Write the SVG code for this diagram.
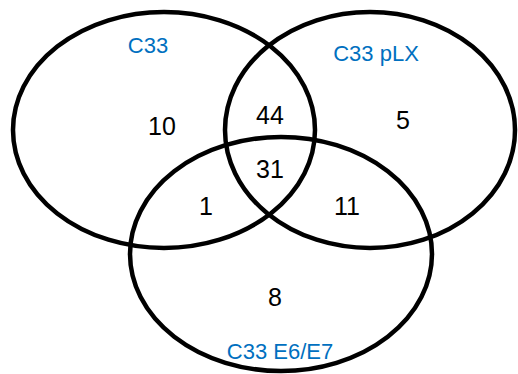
<svg xmlns="http://www.w3.org/2000/svg" width="518" height="374" viewBox="0 0 518 374">
<style>
.set{fill:none;stroke:#000;stroke-width:4.5}
.lbl{font-family:"Liberation Sans",Arial,sans-serif;font-size:22px;fill:#0070C0;text-anchor:middle}
.num{font-family:"Liberation Sans",Arial,sans-serif;font-size:25px;fill:#000;text-anchor:middle}
</style>
<rect width="518" height="374" fill="#fff"/>
<g id="set-c33">
<ellipse class="set" cx="164" cy="130" rx="151" ry="118"/>
<text class="lbl" x="148" y="53">C33</text>
</g>
<g id="set-c33-plx">
<ellipse class="set" cx="370" cy="130" rx="145" ry="118"/>
<text class="lbl" x="376" y="61">C33 pLX</text>
</g>
<g id="set-c33-e6e7">
<ellipse class="set" cx="281" cy="254" rx="151" ry="117"/>
<text class="lbl" x="280" y="359">C33 E6/E7</text>
</g>
<g id="counts">
<text class="num" x="162" y="135">10</text>
<text class="num" x="270" y="124">44</text>
<text class="num" x="403" y="129">5</text>
<text class="num" x="270" y="178">31</text>
<text class="num" x="206" y="215">1</text>
<text class="num" x="347" y="215">11</text>
<text class="num" x="275" y="306">8</text>
</g>
<g id="connectors"></g>
</svg>
